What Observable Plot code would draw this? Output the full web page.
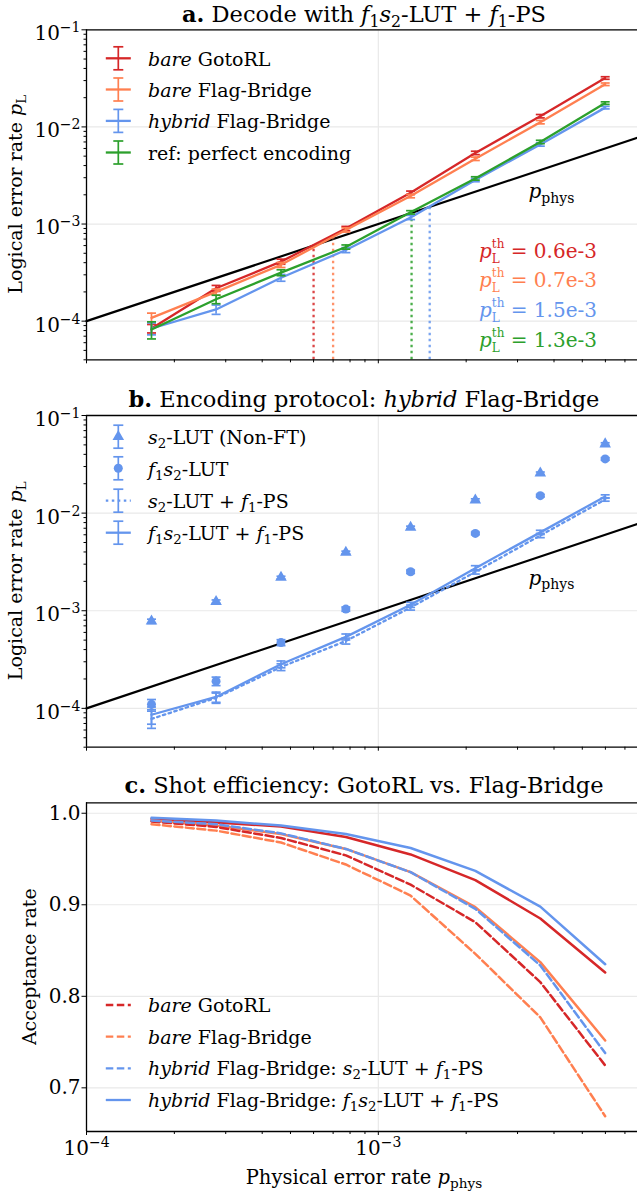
<!DOCTYPE html>
<html>
<head>
<meta charset="utf-8">
<script src="https://cdn.jsdelivr.net/npm/d3@7"></script>
<script src="https://cdn.jsdelivr.net/npm/@observablehq/plot@0.6"></script>
<style>
  html, body { margin: 0; padding: 0; background: #fff; }
  #chart { width: 637px; overflow: hidden; }
  #chart svg { display: block; }
</style>
</head>
<body>
<div id="chart"></div>
<script>
// ---------------- DATA ----------------
const pPhys = [1.67e-4, 2.78e-4, 4.64e-4, 7.74e-4, 1.29e-3, 2.15e-3, 3.59e-3, 5.99e-3];

// Panel a: logical error rate, decode with f1s2-LUT + f1-PS
const aLabels = ["*bare* GotoRL", "*bare* Flag-Bridge", "*hybrid* Flag-Bridge", "ref: perfect encoding"];
const aBareGotoRL        = [8.4e-5, 2.18e-4, 4.1e-4, 9.0e-4, 2.1e-3, 5.4e-3, 1.29e-2, 3.19e-2];
const aBareGotoRLErr     = [0.10, 0.07, 0.06, 0.05, 0.04, 0.04, 0.04, 0.03];
const aBareFlagBridge    = [1.08e-4, 2.0e-4, 3.8e-4, 8.7e-4, 1.94e-3, 4.7e-3, 1.12e-2, 2.75e-2];
const aBareFlagBridgeErr = [0.12, 0.07, 0.06, 0.05, 0.04, 0.04, 0.04, 0.03];
const aHybridFlagBridge    = [8.4e-5, 1.32e-4, 2.8e-4, 5.4e-4, 1.17e-3, 2.84e-3, 6.6e-3, 1.58e-2];
const aHybridFlagBridgeErr = [0.14, 0.11, 0.08, 0.06, 0.05, 0.04, 0.04, 0.03];
const aPerfectEncoding    = [8.2e-5, 1.68e-4, 3.16e-4, 5.8e-4, 1.32e-3, 2.95e-3, 7.0e-3, 1.76e-2];
const aPerfectEncodingErr = [0.2, 0.1, 0.07, 0.05, 0.04, 0.04, 0.04, 0.03];
const thresholdValues = [0.6e-3, 0.7e-3, 1.5e-3, 1.3e-3];
const thresholdLabels = ["0.6e-3", "0.7e-3", "1.5e-3", "1.3e-3"];

// Panel b: encoding protocol hybrid Flag-Bridge
const bLabels = ["*s*_{2}-LUT (Non-FT)", "*f*_{1}*s*_{2}-LUT", "*s*_{2}-LUT + *f*_{1}-PS", "*f*_{1}*s*_{2}-LUT + *f*_{1}-PS"];
const bS2LUT       = [7.8e-4, 1.24e-3, 2.19e-3, 3.96e-3, 7.14e-3, 1.36e-2, 2.56e-2, 5.1e-2];
const bS2LUTErr    = [0.05, 0.04, 0.03, 0.03, 0.03, 0.03, 0.03, 0.03];
const bF1S2LUT     = [1.10e-4, 1.9e-4, 4.72e-4, 1.04e-3, 2.51e-3, 6.2e-3, 1.51e-2, 3.59e-2];
const bF1S2LUTErr  = [0.12, 0.1, 0.07, 0.05, 0.04, 0.03, 0.03, 0.03];
const bS2LUTPS     = [7.8e-5, 1.28e-4, 2.65e-4, 4.9e-4, 1.08e-3, 2.5e-3, 5.9e-3, 1.38e-2];
const bS2LUTPSErr  = [0.2, 0.12, 0.08, 0.07, 0.06, 0.05, 0.05, 0.04];
const bF1S2LUTPS   = [8.6e-5, 1.31e-4, 2.83e-4, 5.4e-4, 1.15e-3, 2.73e-3, 6.35e-3, 1.48e-2];
const bF1S2LUTPSErr= [0.2, 0.12, 0.08, 0.07, 0.06, 0.06, 0.05, 0.04];

// Panel c: acceptance rate
const cLabels = ["*bare* GotoRL", "*bare* Flag-Bridge", "*hybrid* Flag-Bridge: *s*_{2}-LUT + *f*_{1}-PS", "*hybrid* Flag-Bridge: *f*_{1}*s*_{2}-LUT + *f*_{1}-PS"];
const cBareGotoRLDashed      = [0.991, 0.985, 0.973, 0.954, 0.922, 0.881, 0.8155, 0.7245];
const cBareFlagBridgeDashed  = [0.988, 0.981, 0.968, 0.944, 0.910, 0.8464, 0.777, 0.669];
const cHybridS2Dashed        = [0.992, 0.988, 0.978, 0.961, 0.9356, 0.8956, 0.8337, 0.738];
const cHybridF1S2Solid       = [0.995, 0.992, 0.9865, 0.9774, 0.962, 0.937, 0.898, 0.835];
const cBareGotoRLSolid       = [0.9938, 0.990, 0.9854, 0.974, 0.955, 0.927, 0.885, 0.826];
const cBareFlagBridgeSolid   = [0.992, 0.9865, 0.9774, 0.961, 0.9356, 0.8974, 0.8373, 0.7518];

// Text
const titles = [
  "**a.** Decode with *f*_{1}*s*_{2}-LUT + *f*_{1}-PS",
  "**b.** Encoding protocol: *hybrid* Flag-Bridge",
  "**c.** Shot efficiency: GotoRL vs. Flag-Bridge"
];
const yLabelLog = "Logical error rate *p*_{L}";
const yLabelAcc = "Acceptance rate";
const xLabel = "Physical error rate *p*_{phys}";
const identityLabel = "*p*_{phys}";
const identityLabelAt = [3.27e-3, 2.15e-3];

// Ticks
const majorLogY = [1e-4, 1e-3, 1e-2, 1e-1];
const majorLogX = [1e-4, 1e-3];
const accTicks = [0.7, 0.8, 0.9, 1.0];

// ---------------- STYLE ----------------
const FONT = "DejaVu Serif";
const W = 637;
const X_DOMAIN = [1e-4, 7.73e-3];
const Y_LOG_DOMAIN = [4.0e-5, 1e-1];
const Y_ACC_DOMAIN = [0.6523, 1.0114];
const RED = "#d62728", ORANGE = "#ff7f50", BLUE = "#6495ed", GREEN = "#2ca02c";
const GRID = "#e9e9e9";

const minorY = [];
for (let e = -5; e <= -2; e++) for (let m = 2; m <= 9; m++) { const v = m * Math.pow(10, e); if (v >= Y_LOG_DOMAIN[0] && v <= Y_LOG_DOMAIN[1]) minorY.push(v); }
const minorX = [];
for (let e = -4; e <= -3; e++) for (let m = 2; m <= 9; m++) { const v = m * Math.pow(10, e); if (v <= X_DOMAIN[1]) minorX.push(v); }

const logFmt = d => `10^{−${Math.round(-Math.log10(d))}}`;

// ---------------- HELPERS ----------------
function parseMarkup(s) {
  const segs = []; let italic = false, bold = false, mode = "normal", buf = "";
  const push = () => { if (buf) segs.push({text: buf, italic, bold, mode}); buf = ""; };
  for (let i = 0; i < s.length; i++) {
    const c = s[i];
    if (s.startsWith("**", i)) { push(); bold = !bold; i++; continue; }
    if (c === "*") { push(); italic = !italic; continue; }
    if ((c === "_" || c === "^") && s[i + 1] === "{") { push(); mode = c === "_" ? "sub" : "sup"; i++; continue; }
    if (c === "}" && mode !== "normal") { push(); mode = "normal"; continue; }
    buf += c;
  }
  push();
  return segs;
}
function renderRich(el, markup, size) {
  const segs = parseMarkup(markup);
  const t = d3.select(el); t.text(null);
  let off = 0, prevSeg = null, prevNode = null;
  segs.forEach((g, k) => {
    const stackedSub = g.mode === "sub" && segs[k + 1] && segs[k + 1].mode === "sup";
    const stackedSup = g.mode === "sup" && prevSeg && prevSeg.mode === "sub";
    const stacked = stackedSub || stackedSup;
    const target = g.mode === "sub" ? (stacked ? 0.25 : 0.22) * size
                 : g.mode === "sup" ? (stacked ? -0.5 : -0.4) * size : 0;
    const ts = t.append("tspan").text(g.text);
    if (g.italic) ts.attr("font-style", "italic");
    if (g.bold) ts.attr("font-weight", "bold");
    if (g.mode !== "normal") ts.attr("font-size", ((stacked ? 0.6 : 0.7) * size).toFixed(2));
    if (target !== off) ts.attr("dy", (target - off).toFixed(2));
    if (stackedSup) ts.attr("dx", (-prevNode.getComputedTextLength()).toFixed(2));
    off = target; prevSeg = g; prevNode = ts.node();
  });
}
function richAll(svg) {
  svg.querySelectorAll("text").forEach(el => {
    const s = el.textContent;
    if (/[\^_]\{|\*/.test(s)) renderRich(el, s, parseFloat(getComputedStyle(el).fontSize));
  });
}
function addText(svg, markup, {x, y, size, anchor = "start", fill = "black", rotate = 0}) {
  const t = d3.select(svg).append("text")
    .attr("transform", `translate(${x},${y})` + (rotate ? ` rotate(${rotate})` : ""))
    .attr("text-anchor", anchor)
    .attr("fill", fill)
    .attr("font-family", FONT)
    .attr("font-size", size);
  renderRich(t.node(), markup, size);
  return t;
}
function handle(svg, cx, cy, color, {line = null, marker = null, err = false}) {
  const g = d3.select(svg).append("g");
  if (line) g.append("line").attr("x1", cx - 12.5).attr("x2", cx + 12.5).attr("y1", cy).attr("y2", cy)
    .attr("stroke", color).attr("stroke-width", 2.3)
    .attr("stroke-dasharray", line === "dotted" ? "2.5,3.5" : line === "dashed" ? "7.5,3.5" : null);
  if (err) {
    g.append("line").attr("x1", cx).attr("x2", cx).attr("y1", cy - 11.5).attr("y2", cy + 11.5).attr("stroke", color).attr("stroke-width", 1.7);
    for (const dy of [-11.5, 11.5]) g.append("line").attr("x1", cx - 5).attr("x2", cx + 5).attr("y1", cy + dy).attr("y2", cy + dy).attr("stroke", color).attr("stroke-width", 1.7);
  }
  if (marker === "circle") g.append("circle").attr("cx", cx).attr("cy", cy).attr("r", 4.5).attr("fill", color);
  if (marker === "triangle") g.append("path").attr("d", d3.symbol(d3.symbolTriangle, 4.3 * 4.3 * Math.PI)()).attr("transform", `translate(${cx},${cy})`).attr("fill", color);
}
function shiftYTickLabels(svg, dy) {
  d3.select(svg).selectAll('g[aria-label="y-axis tick label"]').each(function() {
    const g = d3.select(this);
    g.attr("transform", (g.attr("transform") || "") + ` translate(0,${dy})`);
  });
}

const capSymbol = { draw(ctx, size) { const r = Math.sqrt(size / Math.PI); ctx.moveTo(-r, 0); ctx.lineTo(r, 0); } };
function rowsOf(ys, errs) { return pPhys.map((x, i) => ({x, y: ys[i], lo: ys[i] * (1 - (errs ? errs[i] : 0)), hi: ys[i] * (1 + (errs ? errs[i] : 0))})); }
function errorBars(rows, color) {
  return [
    Plot.ruleX(rows, {x: "x", y1: "lo", y2: "hi", stroke: color, strokeWidth: 1.7}),
    Plot.dot(rows, {x: "x", y: "lo", symbol: capSymbol, r: 4.5, stroke: color, fill: "none", strokeWidth: 1.7}),
    Plot.dot(rows, {x: "x", y: "hi", symbol: capSymbol, r: 4.5, stroke: color, fill: "none", strokeWidth: 1.7})
  ];
}
function logAxes(withXLabels) {
  return [
    Plot.axisY(majorLogY, {tickSize: 4.5, tickPadding: 1.5, tickFormat: logFmt, label: null, fontSize: 20}),
    Plot.axisY(minorY, {tickSize: 2.5, tickFormat: () => "", label: null}),
    Plot.axisX(majorLogX, {tickSize: 4, tickPadding: 5, tickFormat: withXLabels ? logFmt : () => "", label: null, fontSize: 20}),
    Plot.axisX(minorX, {tickSize: 3, tickFormat: () => "", label: null})
  ];
}
const baseStyle = {fontFamily: FONT, fontSize: "20px", background: "white", color: "black"};
const root = document.getElementById("chart");

// ---------------- PANEL A ----------------
{
  const series = [
    [aBareGotoRL, aBareGotoRLErr, RED],
    [aBareFlagBridge, aBareFlagBridgeErr, ORANGE],
    [aHybridFlagBridge, aHybridFlagBridgeErr, BLUE],
    [aPerfectEncoding, aPerfectEncodingErr, GREEN]
  ];
  const thrColors = [RED, ORANGE, BLUE, GREEN];
  const thrRows = thresholdValues.map((v, i) => ({x: v, bottom: Y_LOG_DOMAIN[0], top: v, color: thrColors[i]}));
  const svg = Plot.plot({
    width: W, height: 380, marginLeft: 86, marginRight: 0, marginTop: 29.3, marginBottom: 20.7,
    style: baseStyle,
    x: {type: "log", domain: X_DOMAIN},
    y: {type: "log", domain: Y_LOG_DOMAIN},
    color: {type: "identity"},
    marks: [
      Plot.gridX(majorLogX, {stroke: GRID, strokeOpacity: 1, strokeWidth: 1.2}),
      Plot.gridY(majorLogY, {stroke: GRID, strokeOpacity: 1, strokeWidth: 1.2}),
      Plot.line(X_DOMAIN.map(v => ({x: v, y: v})), {x: "x", y: "y", stroke: "black", strokeWidth: 2.2}),
      Plot.ruleX(thrRows, {x: "x", y1: "bottom", y2: "top", stroke: "color", strokeWidth: 2.3, strokeDasharray: "2.5,3.5", strokeOpacity: 0.85}),
      ...series.flatMap(([ys, errs, color]) => {
        const rows = rowsOf(ys, errs);
        return [Plot.line(rows, {x: "x", y: "y", stroke: color, strokeWidth: 2.3}), ...errorBars(rows, color)];
      }),
      Plot.text([identityLabelAt], {x: d => d[0], y: d => d[1], text: () => identityLabel, textAnchor: "start", fontSize: 20, fill: "black"}),
      ...logAxes(false),
      Plot.ruleX([X_DOMAIN[0]], {stroke: "black", strokeWidth: 1.3}),
      Plot.ruleY([Y_LOG_DOMAIN[0], Y_LOG_DOMAIN[1]], {stroke: "black", strokeWidth: 1.3})
    ]
  });
  root.append(svg);
  richAll(svg);
  shiftYTickLabels(svg, 4);
  addText(svg, titles[0], {x: 364, y: 22, size: 22.5, anchor: "middle"});
  addText(svg, yLabelLog, {x: 22, y: 194.3, size: 19, anchor: "middle", rotate: -90});
  const rowsY = [58.3, 89.5, 120.9, 152.5];
  const hs = [RED, ORANGE, BLUE, GREEN];
  aLabels.forEach((lab, i) => {
    handle(svg, 118.3, rowsY[i], hs[i], {line: "solid", err: true});
    addText(svg, lab, {x: 148, y: rowsY[i] + 7.5, size: 19});
  });
  thresholdLabels.forEach((lab, i) => {
    addText(svg, `*p*_{L}^{th} = ${lab}`, {x: 597, y: 257.5 + 29.7 * i, size: 20, anchor: "end", fill: thrColors[i]});
  });
}

// ---------------- PANEL B ----------------
{
  const tri = rowsOf(bS2LUT, bS2LUTErr), circ = rowsOf(bF1S2LUT, bF1S2LUTErr);
  const dotted = rowsOf(bS2LUTPS, bS2LUTPSErr), solid = rowsOf(bF1S2LUTPS, bF1S2LUTPSErr);
  const svg = Plot.plot({
    width: W, height: 380, marginLeft: 86, marginRight: 0, marginTop: 35, marginBottom: 13.3,
    style: baseStyle,
    x: {type: "log", domain: X_DOMAIN},
    y: {type: "log", domain: Y_LOG_DOMAIN},
    marks: [
      Plot.gridX(majorLogX, {stroke: GRID, strokeOpacity: 1, strokeWidth: 1.2}),
      Plot.gridY(majorLogY, {stroke: GRID, strokeOpacity: 1, strokeWidth: 1.2}),
      Plot.line(X_DOMAIN.map(v => ({x: v, y: v})), {x: "x", y: "y", stroke: "black", strokeWidth: 2.2}),
      ...errorBars(tri, BLUE),
      Plot.dot(tri, {x: "x", y: "y", symbol: "triangle", r: 4.3, fill: BLUE, stroke: "none"}),
      ...errorBars(circ, BLUE),
      Plot.dot(circ, {x: "x", y: "y", symbol: "circle", r: 4.5, fill: BLUE, stroke: "none"}),
      Plot.line(dotted, {x: "x", y: "y", stroke: BLUE, strokeWidth: 2.3, strokeDasharray: "2.5,3.5"}),
      ...errorBars(dotted, BLUE),
      Plot.line(solid, {x: "x", y: "y", stroke: BLUE, strokeWidth: 2.3}),
      ...errorBars(solid, BLUE),
      Plot.text([identityLabelAt], {x: d => d[0], y: d => d[1], text: () => identityLabel, textAnchor: "start", fontSize: 20, fill: "black"}),
      ...logAxes(false),
      Plot.ruleX([X_DOMAIN[0]], {stroke: "black", strokeWidth: 1.3}),
      Plot.ruleY([Y_LOG_DOMAIN[0], Y_LOG_DOMAIN[1]], {stroke: "black", strokeWidth: 1.3})
    ]
  });
  root.append(svg);
  richAll(svg);
  shiftYTickLabels(svg, 4);
  addText(svg, titles[1], {x: 364, y: 26.5, size: 22.5, anchor: "middle"});
  addText(svg, yLabelLog, {x: 22, y: 200.8, size: 19, anchor: "middle", rotate: -90});
  const rowsY = [56.7, 88.3, 120.7, 152.7];
  const opts = [{marker: "triangle", err: true}, {marker: "circle", err: true}, {line: "dotted", err: true}, {line: "solid", err: true}];
  bLabels.forEach((lab, i) => {
    handle(svg, 118.3, rowsY[i], BLUE, opts[i]);
    addText(svg, lab, {x: 148, y: rowsY[i] + 7.5, size: 19});
  });
}

// ---------------- PANEL C ----------------
{
  const lines = [
    [cBareGotoRLSolid, RED, null],
    [cBareFlagBridgeSolid, ORANGE, null],
    [cBareGotoRLDashed, RED, "8,3.5"],
    [cBareFlagBridgeDashed, ORANGE, "8,3.5"],
    [cHybridS2Dashed, BLUE, "8,3.5"],
    [cHybridF1S2Solid, BLUE, null]
  ];
  const svg = Plot.plot({
    width: W, height: 434, marginLeft: 86, marginRight: 0, marginTop: 42.3, marginBottom: 63,
    style: baseStyle,
    x: {type: "log", domain: X_DOMAIN},
    y: {type: "linear", domain: Y_ACC_DOMAIN},
    marks: [
      Plot.gridX(majorLogX, {stroke: GRID, strokeOpacity: 1, strokeWidth: 1.2}),
      Plot.gridY(accTicks, {stroke: GRID, strokeOpacity: 1, strokeWidth: 1.2}),
      ...lines.map(([ys, color, dash]) => Plot.line(rowsOf(ys), {x: "x", y: "y", stroke: color, strokeWidth: 2.5, strokeDasharray: dash || undefined})),
      Plot.axisY(accTicks, {tickSize: 4.5, tickPadding: 1.5, tickFormat: d3.format(".1f"), label: null, fontSize: 20}),
      Plot.axisX(majorLogX, {tickSize: 4, tickPadding: 5, tickFormat: logFmt, label: null, fontSize: 20}),
      Plot.axisX(minorX, {tickSize: 3, tickFormat: () => "", label: null}),
      Plot.ruleX([X_DOMAIN[0]], {stroke: "black", strokeWidth: 1.3}),
      Plot.ruleY([Y_ACC_DOMAIN[0], Y_ACC_DOMAIN[1]], {stroke: "black", strokeWidth: 1.3})
    ]
  });
  root.append(svg);
  richAll(svg);
  addText(svg, titles[2], {x: 364, y: 33.3, size: 22.5, anchor: "middle"});
  addText(svg, yLabelAcc, {x: 36, y: 206.7, size: 19, anchor: "middle", rotate: -90});
  addText(svg, xLabel, {x: 364, y: 424, size: 19.5, anchor: "middle"});
  const rowsY = [245, 276.7, 308.3, 340];
  const opts = [[RED, "dashed"], [ORANGE, "dashed"], [BLUE, "dashed"], [BLUE, "solid"]];
  cLabels.forEach((lab, i) => {
    handle(svg, 118.3, rowsY[i], opts[i][0], {line: opts[i][1]});
    addText(svg, lab, {x: 148, y: rowsY[i] + 7, size: 19});
  });
}
</script>
</body>
</html>
